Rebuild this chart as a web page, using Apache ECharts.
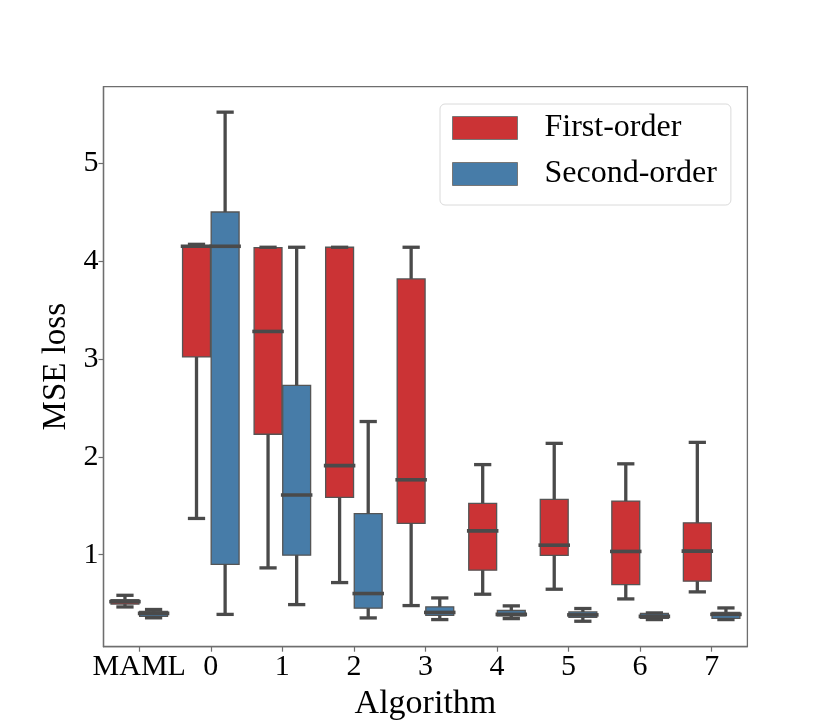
<!DOCTYPE html>
<html><head><meta charset="utf-8">
<script src="https://cdn.jsdelivr.net/npm/echarts@6/dist/echarts.min.js"></script>
<style>html,body{margin:0;padding:0;background:#fff}#c{width:830px;height:727px}</style>
</head><body><div id="c"></div>
<script>
const categories = ['MAML','0','1','2','3','4','5','6','7'];
// each entry: [low whisker, Q1, median, Q3, high whisker]
const firstOrder = [
  [0.466, 0.495, 0.52, 0.54, 0.585],
  [1.37, 3.02, 4.15, 4.15, 4.17],
  [0.865, 2.23, 3.28, 4.137, 4.14],
  [0.715, 1.585, 1.91, 4.14, 4.14],
  [0.48, 1.32, 1.765, 3.817, 4.14],
  [0.596, 0.842, 1.243, 1.524, 1.92],
  [0.647, 0.992, 1.097, 1.564, 2.137],
  [0.548, 0.695, 1.033, 1.547, 1.928],
  [0.62, 0.729, 1.036, 1.325, 2.147]
];
const secondOrder = [
  [0.355, 0.37, 0.40, 0.42, 0.44],
  [0.39, 0.90, 4.15, 4.50, 5.52],
  [0.49, 0.995, 1.61, 2.73, 4.14],
  [0.354, 0.453, 0.603, 1.42, 2.36],
  [0.337, 0.38, 0.41, 0.467, 0.558],
  [0.347, 0.375, 0.39, 0.43, 0.477],
  [0.32, 0.36, 0.385, 0.415, 0.45],
  [0.337, 0.35, 0.37, 0.40, 0.405],
  [0.337, 0.35, 0.39, 0.41, 0.456]
];
const seriesNames = ['First-order', 'Second-order'];
const yTicks = [1, 2, 3, 4, 5];

const RED = '#cb3335';
const BLUE = '#477ca8';
const LINE = '#4a4a4a';
const FONT = "'Liberation Serif', 'DejaVu Serif', serif";

function toData(arr) {
  return arr.map((d, i) => [i].concat(d));
}

function makeRender(sign, fill) {
  return function (params, api) {
    const i = api.value(0);
    const band = api.size([1, 0])[0];
    const bw = band * 0.39;
    const cx = api.coord([i, 1])[0] + sign * band * 0.2;
    const Y = (k) => api.coord([i, api.value(k)])[1];
    const low = Y(1), q1 = Y(2), med = Y(3), q3 = Y(4), high = Y(5);
    const cap = bw / 4;
    const ls = { stroke: LINE, lineWidth: 3.3 };
    return {
      type: 'group',
      children: [
        { type: 'rect', shape: { x: cx - bw / 2, y: q3, width: bw, height: Math.max(q1 - q3, 0.5) },
          style: { fill: fill, stroke: '#555', lineWidth: 1.3 } },
        { type: 'line', shape: { x1: cx, y1: q3, x2: cx, y2: high }, style: ls },
        { type: 'line', shape: { x1: cx, y1: q1, x2: cx, y2: low }, style: ls },
        { type: 'line', shape: { x1: cx - cap, y1: high, x2: cx + cap, y2: high }, style: Object.assign({ lineCap: 'square' }, ls) },
        { type: 'line', shape: { x1: cx - cap, y1: low, x2: cx + cap, y2: low }, style: Object.assign({ lineCap: 'square' }, ls) },
        { type: 'line', shape: { x1: cx - bw / 2, y1: med, x2: cx + bw / 2, y2: med },
          style: { stroke: LINE, lineWidth: 3.6, lineCap: 'square' } }
      ]
    };
  };
}

const chart = echarts.init(document.getElementById('c'), null, { renderer: 'canvas' });
chart.setOption({
  backgroundColor: '#fff',
  animation: false,
  grid: { left: 103.5, right: 82.6, top: 86.7, bottom: 80.3, show: true, borderColor: '#6e6e6e', borderWidth: 1.3, backgroundColor: 'transparent' },
  legend: {
    orient: 'vertical', left: 440, top: 104, selectedMode: false,
    icon: 'rect', itemWidth: 65, itemHeight: 23, itemGap: 14,
    data: [
      { name: seriesNames[0], itemStyle: { color: RED, borderColor: '#777', borderWidth: 1 } },
      { name: seriesNames[1], itemStyle: { color: BLUE, borderColor: '#777', borderWidth: 1 } }
    ],
    textStyle: { fontFamily: FONT, fontSize: 32, color: '#000', padding: [0, 0, 0, 22] },
    padding: [8, 14, 15, 12], borderColor: '#dadada', borderWidth: 1, borderRadius: 5, backgroundColor: '#fff'
  },
  xAxis: {
    type: 'category', data: categories, boundaryGap: true,
    name: 'Algorithm', nameLocation: 'middle', nameGap: 35,
    nameTextStyle: { fontFamily: FONT, fontSize: 34, color: '#000' },
    axisLine: { show: true, lineStyle: { color: '#6e6e6e', width: 1.3 } },
    axisTick: { show: true, alignWithLabel: true, length: 5, lineStyle: { color: '#6e6e6e', width: 1.2 } },
    axisLabel: { fontFamily: FONT, fontSize: 30, color: '#000', margin: 5, interval: 0 },
    splitLine: { show: false }
  },
  yAxis: {
    type: 'value', min: 0.06, max: 5.78,
    name: 'MSE loss', nameLocation: 'middle', nameGap: 25,
    nameTextStyle: { fontFamily: FONT, fontSize: 33, color: '#000' },
    axisLine: { show: true, lineStyle: { color: '#6e6e6e', width: 1.3 } },
    axisTick: { show: true, length: 5, customValues: yTicks, lineStyle: { color: '#6e6e6e', width: 1.2 } },
    axisLabel: { fontFamily: FONT, fontSize: 30, color: '#000', margin: 5, customValues: yTicks },
    splitLine: { show: false }
  },
  series: [
    { name: seriesNames[0], type: 'custom', renderItem: makeRender(-1, RED), data: toData(firstOrder),
      encode: { x: 0, y: [1, 2, 3, 4, 5] }, itemStyle: { color: RED }, clip: false },
    { name: seriesNames[1], type: 'custom', renderItem: makeRender(1, BLUE), data: toData(secondOrder),
      encode: { x: 0, y: [1, 2, 3, 4, 5] }, itemStyle: { color: BLUE }, clip: false }
  ]
});
</script></body></html>
